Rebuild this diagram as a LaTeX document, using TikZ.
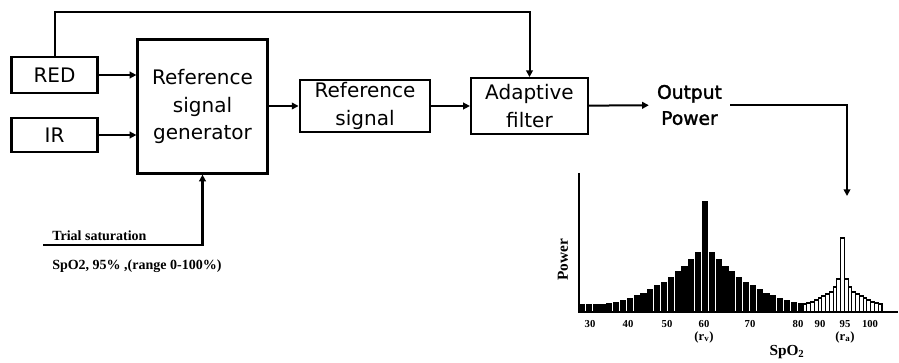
\documentclass[tikz,border=0pt]{standalone}
\usepackage{fontspec}
\setmainfont{Liberation Serif}
\setsansfont{DejaVu Sans}
\newfontfamily\outfont[FakeBold=1.8]{DejaVu Sans}
\usetikzlibrary{positioning,arrows.meta}

\tikzset{
  blk/.style={draw, line width=2.2pt, align=center, inner sep=0pt,
    font=\sffamily\fontsize{15}{20.5}\selectfont},
  thinblk/.style={blk, line width=1.4pt},
  link/.style={line width=1.5pt, -{Triangle[length=5pt,width=5pt]}},
  thinlink/.style={line width=1pt, -{Triangle[length=5pt,width=5pt]}},
  lbl/.style={font=\bfseries\fontsize{10.5}{12}\selectfont, inner sep=0pt},
  tick/.style={font=\bfseries\fontsize{8}{9}\selectfont, inner sep=0pt},
}

\begin{document}
\begin{tikzpicture}[x=0.75pt,y=-0.75pt]
\useasboundingbox (0,0) rectangle (899,363);

\node[blk, minimum width=65pt, minimum height=27pt] (red) at (54.5,75) {RED};
\node[blk, minimum width=65pt, minimum height=25.5pt] (ir) at (54.5,135) {IR};
\node[blk, minimum width=97pt, minimum height=100pt] (gen) at (202.5,106.5) {Reference\\signal\\generator};
\node[blk, minimum width=97.5pt, minimum height=39pt] (ref) at (365,106) {Reference\\signal};
\node[thinblk, minimum width=88pt, minimum height=42pt] (adapt) at (529.5,106) {Adaptive\\filter};
\node[font=\outfont\fontsize{14}{19.5}\selectfont, align=center, inner xsep=6pt] (out) at (689.5,105) {Output\\Power};

\coordinate (topline) at (54.5,12);
\coordinate (hist) at (847,196);
\coordinate (trial) at (43,245);

\draw[link] (red) -- (gen.west |- red);
\draw[link] (ir) -- (gen.west |- ir);
\draw[thinlink] (gen.east |- ref) -- (ref);
\draw[thinlink] (ref) -- (adapt);
\draw[link] (adapt) -- (out);
\draw[link] (red.north) -- (topline) -| (adapt.north);
\draw[link] (out.east) -| (hist);
\draw[link, line width=2pt] (trial) -| (gen.south);

\node[lbl, anchor=base west] (trialtxt) at (52,241) {Trial saturation};
\node[lbl, anchor=west] (spo) at (52,266) {SpO2, 95\% ,(range 0-100\%)};

\foreach \h [count=\i from 0] in {8,8,8,8,9,10,12,14,17,19,23,27,30,35,41,46,53,60,111,
    60,53,46,41,35,30,27,23,19,17,14,12,10,9}
  \fill (579+6.83*\i,312) rectangle ++(6.1,-\h);
\foreach \h [count=\i from 0] in {8,9,10,12,14,16,18,20,25,33,74,33,25,20,18,16,14,12,10,9,8}
  \draw[line width=0.8pt, fill=white] (803+3.76*\i,312) rectangle ++(3.76,-\h);
\draw[line width=1.5pt] (579,173) -- (579,312) -- (898,312);

\foreach \v/\x in {30/590,40/628,50/667,60/704,70/750,80/798,90/820,95/845,100/870}
  \node[tick] (t\v) at (\x,324) {\v};
\node[tick, font=\bfseries\fontsize{9.5}{10}\selectfont] (rv) at (704,337) {(r\textsubscript{v})};
\node[tick, font=\bfseries\fontsize{9.5}{10}\selectfont] (ra) at (845,337) {(r\textsubscript{a})};
\node[lbl, font=\bfseries\fontsize{11.5}{12}\selectfont] (xlab) at (787,352) {SpO\textsubscript{2}};
\node[lbl, font=\bfseries\fontsize{11.5}{12}\selectfont, rotate=90] (ylab) at (563,260) {Power};
\end{tikzpicture}
\end{document}
